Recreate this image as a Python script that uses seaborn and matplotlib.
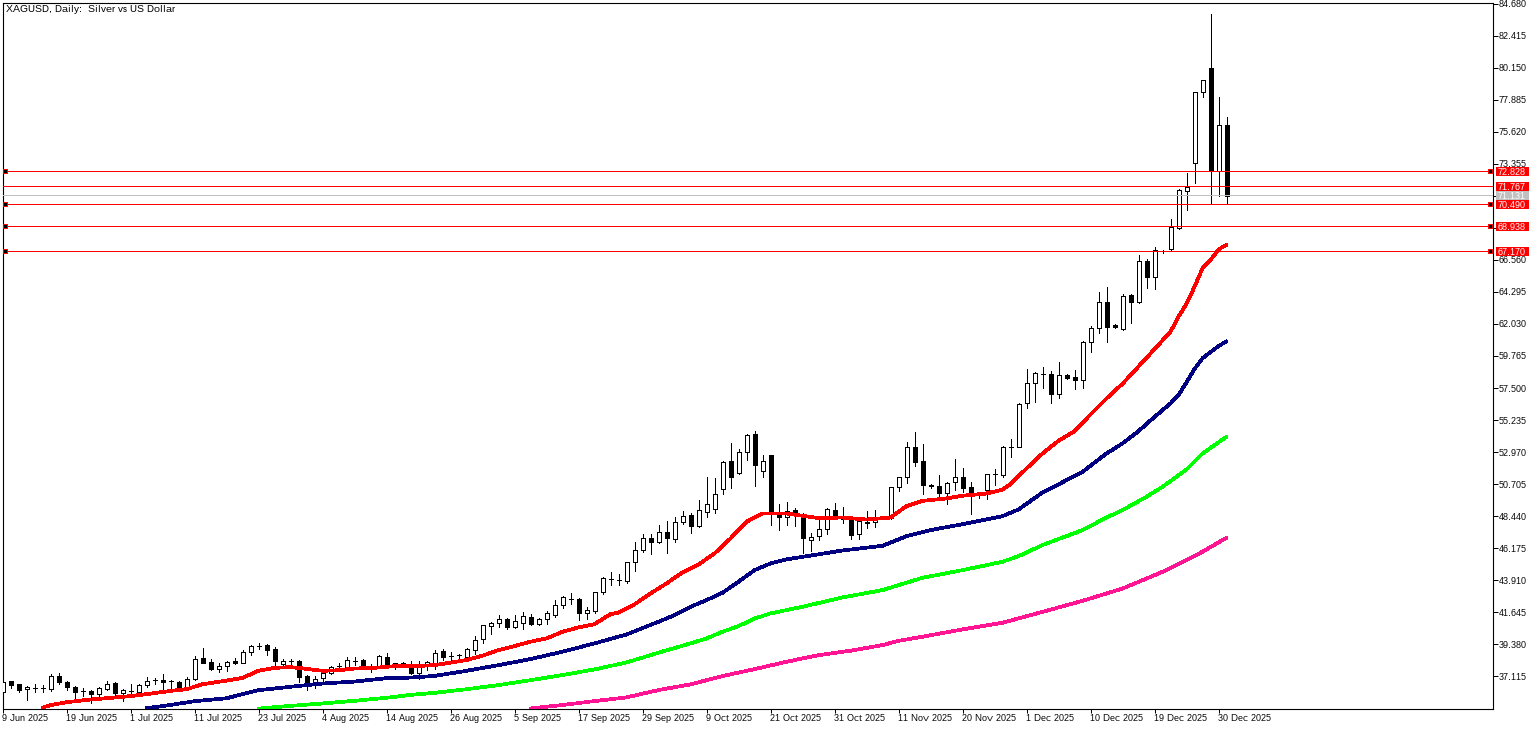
import matplotlib
matplotlib.use("Agg")
import matplotlib.pyplot as plt
import matplotlib.transforms as mtrans
from matplotlib.patches import Rectangle
import numpy as np
import pandas as pd
import seaborn as sns

opens = [35.97,36.77,36.55,36.18,36.32,36.27,36.20,37.10,36.70,36.34,
         36.04,36.04,35.89,36.22,36.63,35.94,36.04,36.01,36.53,36.86,
         36.88,36.81,36.74,36.39,36.93,38.44,38.09,37.64,37.87,38.16,
         38.06,38.86,39.22,39.31,39.01,37.95,38.16,38.16,37.10,36.63,
         37.00,37.38,37.83,37.78,38.16,38.30,37.87,37.83,38.49,38.02,
         38.04,38.01,37.33,37.82,38.06,38.87,38.57,38.59,38.50,38.99,
         39.72,40.69,40.90,41.14,40.57,40.90,41.28,40.78,41.14,41.47,
         42.17,42.60,42.55,41.61,41.75,43.09,44.01,43.94,43.87,45.17,
         46.06,46.86,46.63,47.29,46.84,48.04,48.49,47.76,48.75,48.96,
         50.33,52.31,51.51,52.94,54.22,51.60,52.76,48.54,48.35,48.84,
         48.44,46.72,47.00,47.55,48.84,48.46,48.16,47.15,48.06,47.99,
         48.42,48.28,50.47,51.18,53.30,52.31,50.63,50.54,50.09,50.82,
         51.18,50.47,49.93,50.26,51.41,51.37,53.34,53.34,56.41,57.89,
         58.51,58.46,57.09,58.39,58.25,58.10,60.79,61.78,63.55,61.95,
         61.64,64.07,63.60,66.45,65.37,67.21,67.30,68.81,71.45,73.43,
         78.40,80.12,72.84,76.07]
highs = [36.80,36.81,36.60,36.46,36.60,36.48,37.26,37.33,36.77,36.41,
         36.30,36.15,36.34,36.81,36.70,36.20,36.60,36.60,37.07,36.98,
         37.26,36.86,36.77,37.07,38.53,39.08,38.37,38.06,38.20,38.42,
         38.96,39.34,39.48,39.38,39.15,38.35,38.32,38.25,37.17,37.12,
         37.54,37.87,38.02,38.51,38.46,38.35,37.99,38.63,38.75,38.06,
         38.15,38.20,38.20,38.20,38.96,39.01,38.85,38.66,39.13,39.93,
         40.71,40.95,41.42,41.21,41.42,41.63,41.49,41.21,41.75,42.48,
         42.76,42.97,42.62,42.01,43.04,44.11,44.46,44.34,45.21,46.58,
         47.15,47.15,47.78,48.09,48.35,48.77,48.63,49.57,51.20,51.11,
         52.35,53.58,53.16,54.22,54.43,52.76,52.76,49.27,49.41,48.98,
         48.68,47.22,48.39,48.98,49.36,49.08,48.30,48.28,48.77,48.84,
         48.46,50.52,51.22,53.67,54.38,53.53,50.70,51.34,50.87,52.47,
         51.81,50.82,50.04,51.41,51.74,53.39,53.89,56.43,58.84,58.62,
         58.98,58.72,59.33,58.48,58.74,60.84,61.92,64.28,64.63,62.02,
         64.14,64.14,66.90,66.59,67.44,67.25,69.44,71.54,72.70,78.47,
         79.25,83.94,78.07,76.66]
lows = [35.97,36.32,35.97,35.42,35.99,35.99,36.06,36.55,36.15,35.42,
        35.71,35.23,35.61,36.13,35.75,35.35,35.75,35.75,36.34,36.58,
        36.13,36.13,36.27,36.25,36.84,38.04,37.54,37.45,37.50,37.99,
        38.02,38.65,39.01,38.61,37.90,37.85,37.85,36.70,36.15,36.25,
        36.67,37.26,37.64,37.71,37.92,37.69,37.43,37.78,37.87,37.62,
        37.78,37.28,36.93,37.54,37.64,38.26,38.15,38.25,38.38,38.68,
        39.49,40.10,40.62,40.43,40.50,40.48,40.76,40.71,40.81,41.32,
        41.96,42.24,41.11,41.18,41.61,42.95,43.59,43.59,43.73,44.58,
        45.92,45.75,46.56,45.85,46.63,47.90,47.26,47.69,48.39,48.68,
        50.02,50.45,51.39,52.40,50.59,51.22,47.83,47.48,47.83,47.73,
        45.82,46.00,46.77,47.17,48.42,47.92,46.84,46.84,47.59,47.69,
        48.25,48.25,50.23,50.80,52.00,50.00,50.44,49.69,49.29,50.30,
        50.16,48.61,49.74,49.67,50.63,51.20,52.59,53.30,56.10,56.50,
        57.49,56.45,56.78,58.15,57.45,57.52,60.06,61.40,60.77,61.73,
        61.59,62.11,63.53,64.56,64.47,67.06,67.21,68.76,70.08,71.99,
        78.07,70.51,71.07,70.51]
closes = [36.72,36.51,36.15,36.34,36.25,36.27,37.10,36.72,36.37,35.97,
          36.04,35.89,36.25,36.60,35.94,36.11,36.04,36.51,36.81,36.86,
          36.74,36.81,36.39,36.93,38.37,38.06,37.62,37.87,38.09,38.06,
          38.86,39.29,39.22,38.98,38.16,38.18,38.16,37.07,36.60,36.93,
          37.38,37.80,37.83,38.23,38.16,37.78,37.62,38.53,37.99,37.90,
          37.92,37.33,37.82,38.11,38.79,38.50,38.57,38.59,39.01,39.65,
          40.71,40.85,41.14,40.62,40.99,41.35,40.81,41.14,41.56,42.13,
          42.69,42.60,41.61,41.77,43.04,44.03,44.01,43.94,45.17,46.01,
          46.86,46.63,47.29,46.91,47.99,48.47,47.76,48.84,49.27,50.04,
          52.24,51.22,52.94,54.15,52.07,52.31,48.68,48.39,48.82,48.56,
          46.91,46.98,47.50,48.91,48.51,48.25,47.12,48.13,47.97,48.39,
          48.25,50.47,51.18,53.30,52.28,50.61,50.54,50.09,50.80,51.18,
          50.44,49.97,49.93,51.39,51.41,53.30,53.34,56.34,57.89,58.53,
          58.51,57.09,58.39,58.22,58.10,60.79,61.78,63.55,61.83,61.81,
          64.04,63.60,66.45,65.36,67.25,67.21,68.86,71.47,71.73,78.40,
          79.25,72.84,76.07,71.09]

red_bars = [5,6,8,11,14,16,18,21,23,25,28,30,32,34,36,38,40,42,44,47,49,51,54,58,60,
            62,64,66,68,70,72,74,76,77,79,81,83,85,87,89,91,93,95,97,98,100,102,105,108,111,
            113,115,118,120,123,125,126,128,130,132,134,136,138,140,142,144,146,147,148,149,
            150,151,152,153]
red_ma = [34.90,35.07,35.28,35.47,35.61,35.71,35.85,36.08,36.20,36.55,36.81,37.00,37.50,37.71,37.76,
          37.64,37.50,37.54,37.66,37.73,37.83,37.82,37.90,38.26,38.57,38.97,39.25,39.56,39.79,40.26,
          40.57,40.80,41.51,41.61,42.20,42.97,43.68,44.46,45.02,45.80,46.86,48.04,48.63,48.63,48.63,
          48.46,48.30,48.34,48.20,48.34,49.15,49.52,49.69,49.88,50.04,50.32,50.70,51.81,52.87,53.77,
          54.45,55.63,56.76,57.80,59.02,60.25,61.48,62.54,63.45,64.66,65.96,66.55,67.30,67.63]
navy_bars = [18,20,24,28,32,36,40,44,48,51,54,58,62,66,70,74,78,82,84,86,88,90,92,94,96,98,
             105,110,113,116,120,125,127,130,133,135,138,140,142,144,146,147,148,149,150,151,152,153]
navy_ma = [34.87,35.00,35.35,35.56,36.13,36.37,36.60,36.74,36.98,37.02,37.14,37.50,37.90,38.33,
           38.85,39.44,40.07,40.97,41.44,42.03,42.50,43.02,43.80,44.62,45.09,45.38,46.01,46.34,47.02,
           47.45,47.87,48.44,48.91,50.11,50.98,51.57,52.87,53.58,54.45,55.46,56.41,57.00,57.90,58.85,59.60,
           60.04,60.46,60.81]
lime_bars = [32,36,40,44,48,51,54,58,62,66,70,74,78,82,86,88,90,92,94,96,100,105,110,115,120,125,
             127,130,135,138,140,143,145,148,150,153]
lime_ma = [34.83,35.02,35.19,35.38,35.59,35.80,35.94,36.20,36.49,36.84,37.20,37.60,38.09,38.78,39.44,
           39.79,40.26,40.66,41.20,41.56,42.03,42.69,43.21,44.08,44.62,45.21,45.61,46.39,47.45,48.34,
           48.86,49.81,50.51,51.74,52.87,54.05]
pink_bars = [66,70,74,78,82,86,90,94,98,102,106,110,112,115,120,125,130,135,140,145,150,153]
pink_ma = [34.84,35.08,35.36,35.62,36.14,36.54,37.13,37.62,38.14,38.61,38.92,39.32,39.62,39.91,40.43,
           40.90,41.67,42.45,43.32,44.50,45.92,46.91]

price_ticks = [37.115,39.380,41.645,43.910,46.175,48.440,50.705,52.970,55.235,57.500,59.765,62.030,
               64.295,66.560,68.825,71.090,73.355,75.620,77.885,80.150,82.415,84.680]
date_ticks = [0,8,16,24,32,40,48,56,64,72,80,88,96,104,112,120,128,136,144,152]
date_labels = ["9 Jun 2025","19 Jun 2025","1 Jul 2025","11 Jul 2025","23 Jul 2025","4 Aug 2025",
               "14 Aug 2025","26 Aug 2025","5 Sep 2025","17 Sep 2025","29 Sep 2025","9 Oct 2025",
               "21 Oct 2025","31 Oct 2025","11 Nov 2025","20 Nov 2025","1 Dec 2025","10 Dec 2025",
               "19 Dec 2025","30 Dec 2025"]
level_prices = [72.828,71.767,70.490,68.938,67.170]
anchored_levels = [72.828,70.490,68.938,67.170]
bid_price = 71.131
title = "XAGUSD, Daily:  Silver vs US Dollar"

sns.set_theme(style="white")
plt.rcParams["font.family"] = ["Liberation Sans", "DejaVu Sans"]
plt.rcParams["text.hinting"] = "native"
plt.rcParams["text.hinting_factor"] = 1

W, H = 1540, 729
FS = 6.75
fig = plt.figure(figsize=(W/100, H/100), dpi=100, facecolor="white")
ax = fig.add_axes([2.5/W, 1-708.5/H, 1490/W, 706/H], facecolor="white")
ax.set_xlim(0, 186.25)
ax.set_ylim(34.835, 84.765)

candles = pd.DataFrame({"open": opens, "high": highs, "low": lows, "close": closes})
candles["bar"] = candles.index
candles["bottom"] = candles[["open", "close"]].min(axis=1)
candles["size"] = (candles["open"] - candles["close"]).abs()
candles["face"] = np.where(candles["close"] > candles["open"], "white", "black")

ax.vlines(candles["bar"], candles["low"], candles["high"], color="black", lw=0.72,
          antialiased=False, zorder=2)
ax.bar(candles["bar"], candles["size"], bottom=candles["bottom"], width=0.5,
       color=candles["face"], edgecolor="black", linewidth=0.72, antialiased=False, zorder=3)

for bars, vals, col in [(pink_bars, pink_ma, "#FF1493"), (lime_bars, lime_ma, "#00FF00"),
                        (navy_bars, navy_ma, "#000080"), (red_bars, red_ma, "#FF0000")]:
    sns.lineplot(x=bars, y=vals, color=col, lw=1.95, ax=ax, estimator=None, sort=False,
                 legend=False, zorder=4, antialiased=False, solid_capstyle="round")

ax.axhline(bid_price, color="#C0C0C0", lw=0.72, zorder=4.5, antialiased=False)
for p in level_prices:
    ax.axhline(p, color="#FF0000", lw=0.72, zorder=5, antialiased=False)
for xpos in (0.31, 185.875):
    ax.scatter([xpos]*len(anchored_levels), anchored_levels, marker="s", s=11, c="black",
               edgecolors="#FF0000", linewidths=0.72, zorder=6, clip_on=False)

ax.yaxis.tick_right()
ax.set_yticks(price_ticks)
ax.set_yticklabels([f"{v:.3f}" for v in price_ticks])
ax.set_xticks(date_ticks)
ax.set_xticklabels(date_labels, ha="left")
ax.tick_params(axis="y", which="major", right=True, left=False, length=3.5, width=0.72,
               pad=0.8, labelsize=FS, colors="black")
ax.tick_params(axis="x", which="major", bottom=True, length=3, width=0.72,
               pad=1.0, labelsize=6.6, colors="black")
for s in ax.spines.values():
    s.set_visible(True)
    s.set_color("black")
    s.set_linewidth(0.8)

tag_tf = mtrans.blended_transform_factory(ax.transAxes, ax.transData)
px_per_price = 706 / (84.765 - 34.835)
def tag(price, col, z):
    ax.add_patch(Rectangle((1.00215, price - 4.7/px_per_price), 33.5/1490, 9.4/px_per_price,
                           transform=tag_tf, fc=col, ec="none", zorder=z, clip_on=False))
    ax.text(1.00335, price, f"{price:.3f}", transform=tag_tf, color="white", fontsize=FS,
            ha="left", va="center_baseline", zorder=z, clip_on=False)
tag(bid_price, "#C0C0C0", 7)
for p in level_prices:
    tag(p, "#FF0000", 8)

fig.text(6/W, 1-9/H, title, fontsize=7.0, color="black", ha="left", va="center")
fig.savefig("out.png", dpi=100, facecolor="white")
